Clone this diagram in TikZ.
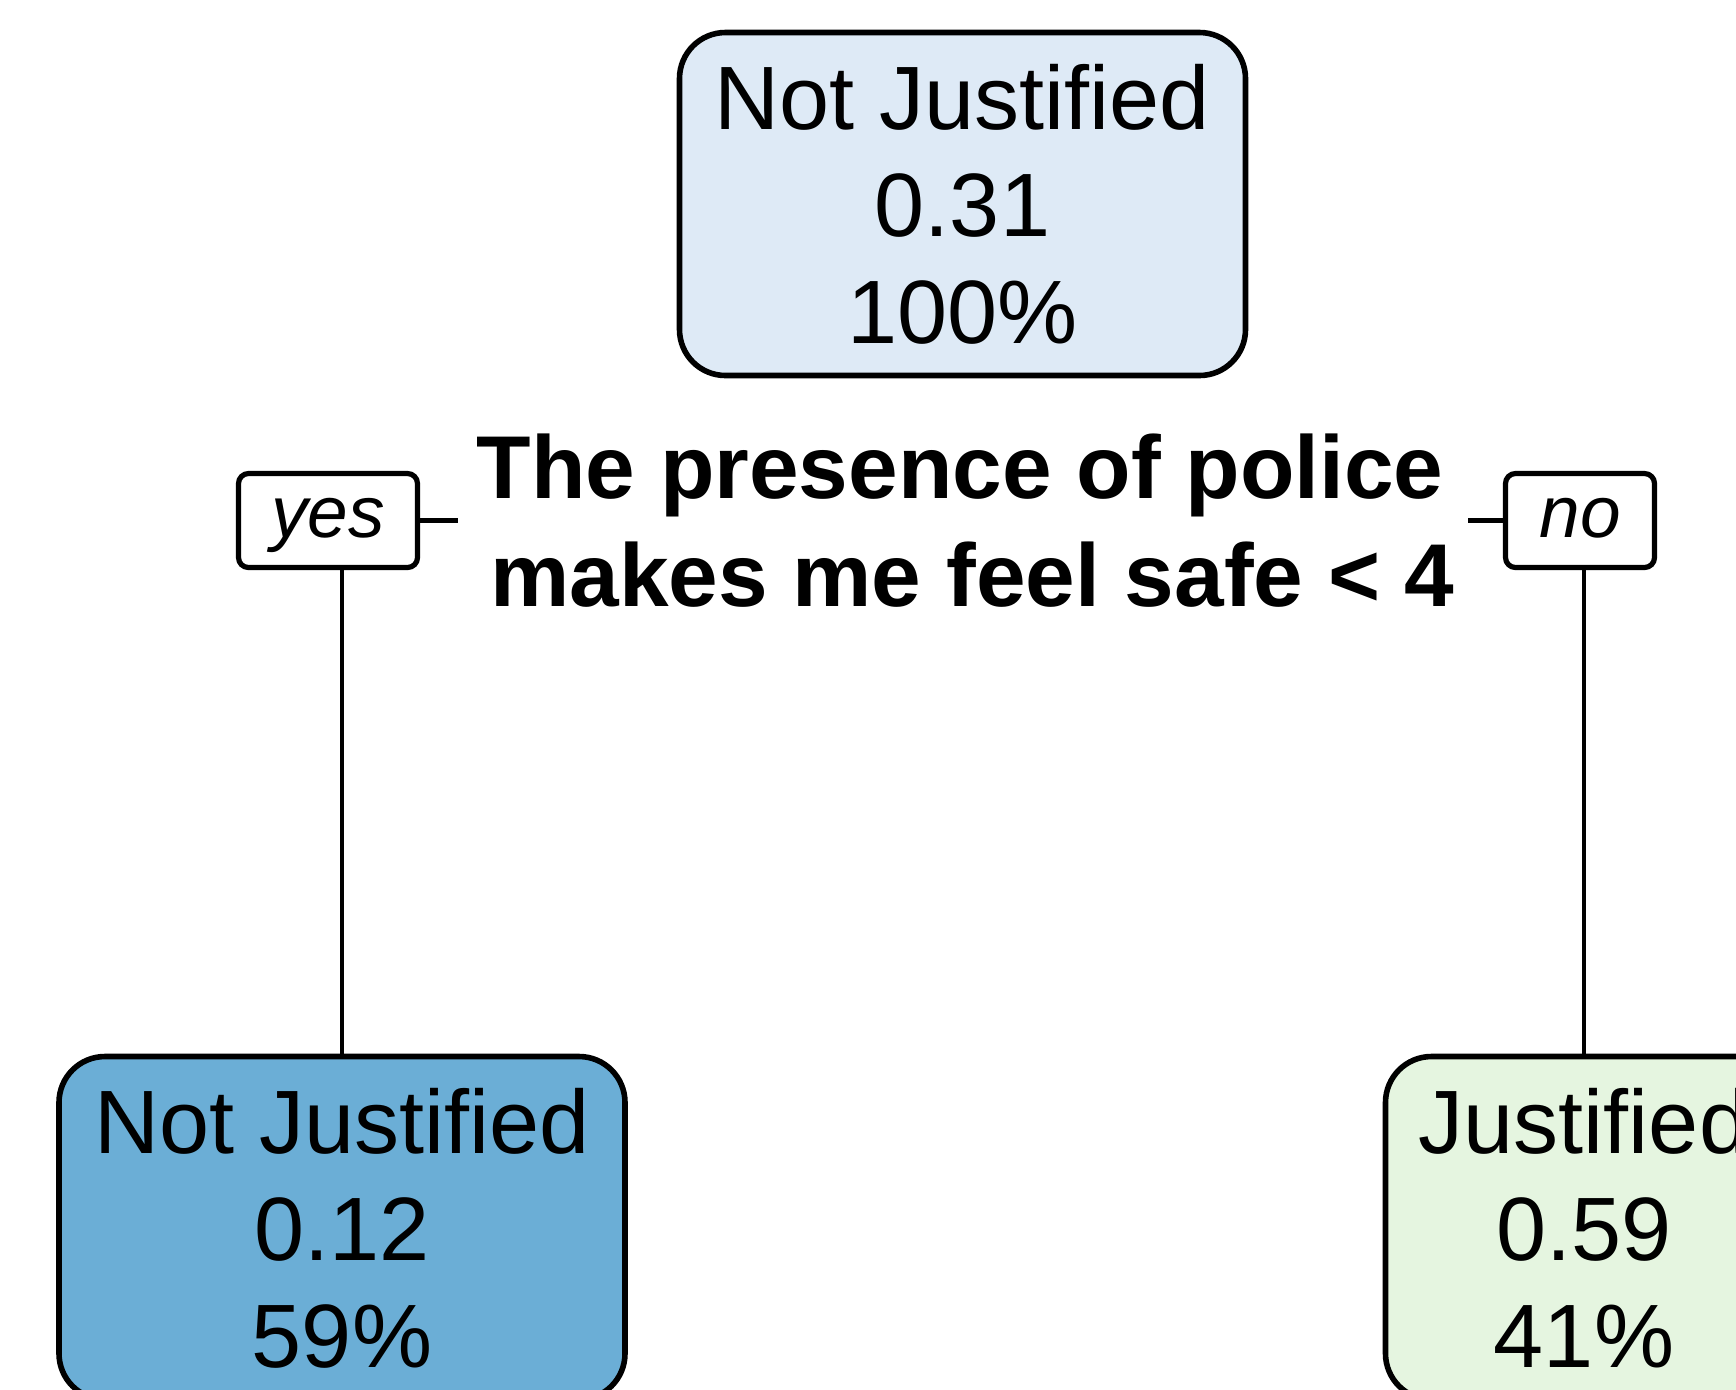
\documentclass[tikz,border=0pt]{standalone}
\usepackage{fontspec}
\setmainfont{Liberation Sans}
\definecolor{topc}{HTML}{DEEAF6}
\definecolor{leftc}{HTML}{6BAED6}
\definecolor{rightc}{HTML}{E5F5E0}
\begin{document}
\begin{tikzpicture}[x=0.5pt,y=-0.5pt]
\tikzset{
  leaf/.style={draw, line width=2.8pt, rounded corners=23pt, minimum width=283pt,
    minimum height=171.5pt, inner sep=0pt, align=center,
    font=\fontsize{45pt}{53.5pt}\selectfont},
  lbl/.style={draw, line width=2.6pt, rounded corners=5pt, minimum height=47pt,
    inner sep=0pt, font=\fontsize{36.5pt}{40pt}\selectfont\itshape,
    text height=20pt, text depth=3.5pt},
  splittext/.style={inner sep=0pt, align=center,
    font=\fontsize{44.6pt}{54pt}\selectfont\bfseries},
  conn/.style={line width=2.3pt}
}
\useasboundingbox (0,0) rectangle (1736,1389);
\clip (0,0) rectangle (1736,1389);
\node[leaf, fill=topc] (root) at (962.5,204) {Not Justified\\0.31\\100\%};
\node[leaf, fill=leftc] (left) at (342,1228) {Not Justified\\0.12\\59\%};
\node[leaf, fill=rightc, minimum width=198.5pt] (right) at (1584,1228) {Justified\\0.59\\41\%};
\node[splittext] (split) at (972.5,521) {The presence of police\kern0.278em\\makes me feel safe < 4};
\node[lbl, minimum width=89.5pt] (yes) at (328,520.5) {yes};
\node[lbl, minimum width=74.5pt] (no) at (1580,520.5) {no};
\coordinate (ys) at (458,520.5);
\coordinate (ns) at (1468,520.5);
\draw[conn] (yes.east) -- (ys);
\draw[conn] (ns) -- (no.west);
\draw[conn] (left.north |- yes.south) -- (left.north);
\draw[conn] (right.north |- no.south) -- (right.north);
\end{tikzpicture}
\end{document}
